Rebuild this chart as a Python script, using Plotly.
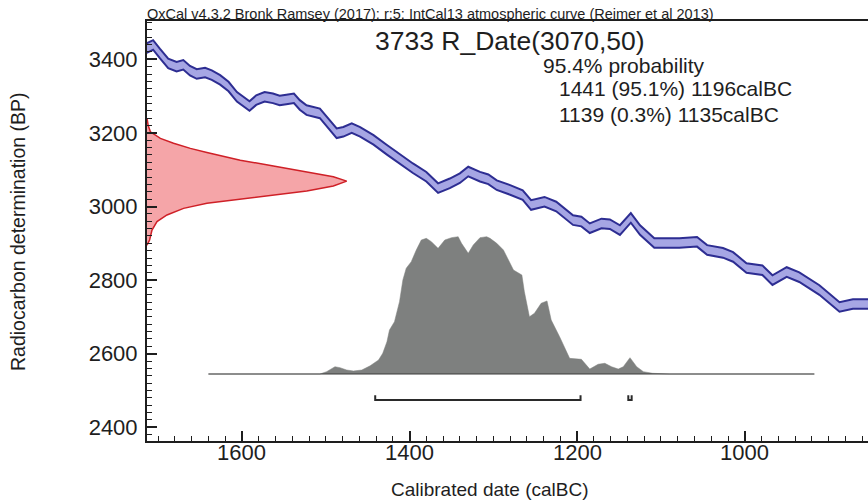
import plotly.graph_objects as go

# IntCal13 curve segment: calendar year (BC), radiocarbon age (BP), 1-sigma error
cal_years = [1714, 1706, 1698, 1688, 1678, 1670, 1662, 1654, 1644, 1636,
             1626, 1616, 1606, 1598, 1591, 1583, 1573, 1563, 1555, 1547,
             1538, 1531, 1523, 1507, 1497, 1487, 1479, 1469, 1459, 1443,
             1427, 1412, 1396, 1380, 1366, 1352, 1340, 1330, 1316, 1306,
             1296, 1280, 1265, 1255, 1239, 1225, 1205, 1195, 1185, 1171,
             1161, 1149, 1136, 1125, 1108, 1093, 1078, 1057, 1045, 1026,
             1014, 998, 979, 967, 950, 935, 911, 887, 871, 853]
cal_bp = [3430, 3439, 3416, 3389, 3380, 3385, 3369, 3360, 3364, 3357,
          3344, 3326, 3298, 3285, 3273, 3289, 3298, 3294, 3288, 3291,
          3294, 3276, 3262, 3253, 3226, 3199, 3203, 3213, 3203, 3181,
          3154, 3130, 3104, 3081, 3050, 3063, 3077, 3095, 3081, 3074,
          3058, 3045, 3031, 3004, 3013, 3000, 2963, 2959, 2941, 2954,
          2952, 2936, 2969, 2936, 2901, 2901, 2901, 2904, 2882, 2874,
          2863, 2833, 2827, 2800, 2822, 2808, 2773, 2727, 2735, 2735]
cal_err = [13] * len(cal_years)

# Measured radiocarbon date 3070 +/- 50 BP, relative density
rdate_bp = [3240, 3220, 3203, 3185, 3172, 3158, 3147, 3126, 3110, 3095, 3081, 3069,
            3056, 3042, 3031, 3020, 3009, 2995, 2977, 2959, 2936, 2909, 2895]
rdate_prob = [0, 0.006, 0.017, 0.067, 0.133, 0.217, 0.30, 0.467, 0.633, 0.80, 0.933, 1.0,
              0.933, 0.80, 0.633, 0.467, 0.30, 0.183, 0.10, 0.05, 0.025, 0.013, 0]

# Calibrated probability distribution (relative)
hist_years = [1640, 1507, 1499, 1489, 1483, 1475, 1467, 1457, 1447, 1437,
              1432, 1427, 1424, 1418, 1412, 1408, 1404, 1398, 1392, 1386,
              1380, 1374, 1366, 1358, 1350, 1342, 1338, 1330, 1324, 1316,
              1308, 1304, 1296, 1288, 1276, 1266, 1263, 1257, 1251, 1243,
              1236, 1231, 1221, 1209, 1195, 1185, 1175, 1167, 1159, 1151,
              1145, 1137, 1129, 1121, 1110, 1090, 917]
hist_prob = [0, 0, 0.017, 0.053, 0.046, 0.029, 0.022, 0.029, 0.060, 0.102,
             0.151, 0.235, 0.320, 0.381, 0.527, 0.685, 0.770, 0.818, 0.903, 0.976,
             0.988, 0.964, 0.915, 0.976, 0.993, 1.0, 0.952, 0.879, 0.940, 0.993,
             1.0, 0.988, 0.952, 0.903, 0.757, 0.721, 0.599, 0.417, 0.442, 0.515,
             0.532, 0.393, 0.272, 0.114, 0.107, 0.036, 0.071, 0.078, 0.053, 0.036,
             0.053, 0.119, 0.053, 0.017, 0.005, 0, 0]

# 95.4% highest probability ranges (calBC)
range_from = [1441, 1139]
range_to = [1196, 1135]
range_pct = ["95.1%", "0.3%"]

x_ticks = [1600, 1400, 1200, 1000]
y_ticks = [2400, 2600, 2800, 3000, 3200, 3400]

FONT = "Liberation Sans, Arial, sans-serif"
INK = "#1e1e1e"
CURVE_EDGE = "#2d2d92"
CURVE_FILL = "#a6a6e4"

fig = go.Figure()

# calibration curve band
fig.add_trace(go.Scatter(
    x=cal_years, y=[b - e for b, e in zip(cal_bp, cal_err)],
    mode="lines", line=dict(color=CURVE_EDGE, width=2), hoverinfo="skip",
    showlegend=False))
fig.add_trace(go.Scatter(
    x=cal_years, y=[b + e for b, e in zip(cal_bp, cal_err)],
    mode="lines", line=dict(color=CURVE_EDGE, width=2),
    fill="tonexty", fillcolor=CURVE_FILL, hoverinfo="skip", showlegend=False))

# radiocarbon measurement on the y axis
fig.add_trace(go.Scatter(
    x=rdate_prob, y=rdate_bp, xaxis="x2", yaxis="y",
    mode="lines", line=dict(color="#cf2027", width=1.5),
    fill="tozerox", fillcolor="#f5a5a8", hoverinfo="skip", showlegend=False))

# calibrated distribution
fig.add_trace(go.Scatter(
    x=hist_years, y=hist_prob, xaxis="x", yaxis="y2",
    mode="lines", line=dict(color="#7e807f", width=0.5),
    fill="tozeroy", fillcolor="#7e807f", hoverinfo="skip", showlegend=False))
fig.add_trace(go.Scatter(
    x=[hist_years[0], hist_years[-1]], y=[0, 0], xaxis="x", yaxis="y2",
    mode="lines", line=dict(color="#3a3a3a", width=1), hoverinfo="skip",
    showlegend=False))

# range brackets below the distribution
for a, b in zip(range_from, range_to):
    fig.add_trace(go.Scatter(
        x=[a, a, b, b], y=[-0.155, -0.19, -0.19, -0.155], xaxis="x", yaxis="y2",
        mode="lines", line=dict(color="#2a2a2a", width=2), hoverinfo="skip",
        showlegend=False))

L, T, W, H = 147, 21, 721, 420


def px(x):
    return (x - L) / W


def py(y):
    return (T + H - y) / H


annotations = [
    dict(text="OxCal v4.3.2 Bronk Ramsey (2017); r:5; IntCal13 atmospheric curve (Reimer et al 2013)",
         x=0, y=1, xanchor="left", yanchor="bottom", xshift=-2, yshift=-3,
         font=dict(size=14.5, color=INK)),
    dict(text="3733 R_Date(3070,50)", x=px(510), y=py(41),
         xanchor="center", yanchor="middle", font=dict(size=26.5, color=INK)),
    dict(text="95.4% probability", x=px(541), y=py(66),
         xanchor="left", yanchor="middle", font=dict(size=21, color=INK)),
]
for i, (a, b, p) in enumerate(zip(range_from, range_to, range_pct)):
    annotations.append(dict(
        text=f"{a} ({p}) {b}calBC", x=px(557), y=py(89 + 25 * i),
        xanchor="left", yanchor="middle", font=dict(size=21, color=INK)))
annotations += [
    dict(text="Radiocarbon determination (BP)", x=px(18), y=py(232), textangle=-90,
         xanchor="center", yanchor="middle", font=dict(size=19.5, color=INK)),
    dict(text="Calibrated date (calBC)", x=px(489), y=py(489),
         xanchor="center", yanchor="middle", font=dict(size=19, color=INK)),
]
for a in annotations:
    a.update(xref="paper", yref="paper", showarrow=False)

# calendar-axis tick labels, placed on the x scale just under the axis line
for v in x_ticks:
    annotations.append(dict(
        text=str(v), x=v, xref="x", y=py(453), yref="paper",
        xanchor="center", yanchor="middle", showarrow=False,
        font=dict(size=22, color=INK)))

fig.update_layout(
    width=868, height=501,
    margin=dict(l=L, r=868 - L - W, t=T, b=501 - T - H, pad=0),
    paper_bgcolor="white", plot_bgcolor="white",
    font=dict(family=FONT, color=INK),
    annotations=annotations,
    xaxis=dict(
        range=[1713.3, 853], tickmode="array", tickvals=x_ticks,
        ticks="inside", ticklen=10, tickwidth=1.5, tickcolor=INK,
        minor=dict(dtick=20, tick0=0, ticks="inside", ticklen=5, tickwidth=1, tickcolor=INK),
        showline=True, linecolor=INK, linewidth=2, mirror=True,
        showgrid=False, zeroline=False, showticklabels=False),
    yaxis=dict(
        range=[2362.8, 3504.1], tickmode="array", tickvals=y_ticks,
        ticks="inside", ticklen=10, tickwidth=1.5, tickcolor=INK,
        minor=dict(dtick=20, tick0=0, ticks="inside", ticklen=5, tickwidth=1, tickcolor=INK),
        showline=True, linecolor=INK, linewidth=2,
        showgrid=False, zeroline=False, tickfont=dict(size=22, color=INK),
        ticklabelstandoff=3),
    xaxis2=dict(overlaying="x", range=[0, 3.61], visible=False),
    yaxis2=dict(overlaying="y", range=[-0.488, 2.571], visible=False),
)

fig.write_html("out.html")
